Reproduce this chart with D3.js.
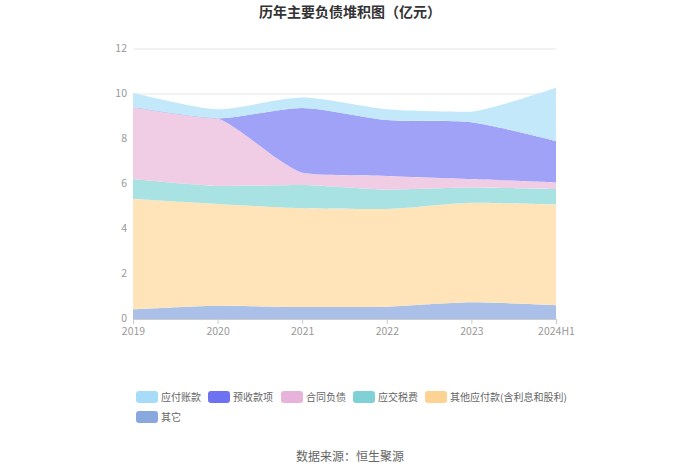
<!DOCTYPE html>
<html><head><meta charset="utf-8">
<script src="https://cdn.jsdelivr.net/npm/d3@7"></script>
<style>body{margin:0;background:#fff;font-family:"Noto Sans CJK SC","Noto Sans",sans-serif;}</style>
</head><body><svg id="c" width="700" height="474"></svg>
<script>
const categories = ["2019","2020","2021","2022","2023","2024H1"];
const seriesNames = ["应付账款","预收款项","合同负债","应交税费","其他应付款(含利息和股利)","其它"];
const s_yingfu   = [0.65, 0.40, 0.46, 0.48, 0.47, 2.37];
const s_yushou   = [0.00, 0.00, 2.88, 2.48, 2.52, 1.84];
const s_hetong   = [3.19, 3.01, 0.54, 0.60, 0.37, 0.29];
const s_yingjiao = [0.89, 0.80, 1.04, 0.87, 0.68, 0.70];
const s_qitayf   = [4.90, 4.52, 4.39, 4.34, 4.43, 4.47];
const s_qita     = [0.43, 0.59, 0.53, 0.55, 0.74, 0.61];
const yTicks = [0,2,4,6,8,10,12];

const swatch = ["#a6dcf7","#6e72f0","#e8b3da","#7fd1d6","#fdd393","#88a8de"];
const fills  = ["#c2e8fa","#a0a2f8","#f0cde5","#a9e2e3","#fee4b8","#abc0e8"];

// mild ECharts-like smoothing curve (control points clamped to segment box)
function smoothCurve(smooth){
  return function(context){
    return {
      areaStart(){this._line=0;},
      areaEnd(){this._line=NaN;},
      lineStart(){this._pts=[];},
      point(x,y){this._pts.push([+x,+y]);},
      lineEnd(){
        const p=this._pts, n=p.length, c=context;
        const clamp=(v,a,b)=>Math.max(Math.min(a,b),Math.min(Math.max(a,b),v));
        if(n){
          if(this._line) c.lineTo(p[0][0],p[0][1]); else c.moveTo(p[0][0],p[0][1]);
          let cpx=p[0][0], cpy=p[0][1];
          for(let i=1;i<n;i++){
            const [px,py]=p[i-1], [x,y]=p[i];
            let vx=0, vy=0, ratio=0.5, c0x=x, c0y=y;
            if(i<n-1){
              const [nx,ny]=p[i+1];
              vx=nx-px; vy=ny-py;
              const l0=Math.hypot(x-px,y-py), l1=Math.hypot(nx-x,ny-y);
              ratio = (l0+l1)>0 ? l1/(l0+l1) : 0.5;
              c0x = x - vx*smooth*(1-ratio);
              c0y = y - vy*smooth*(1-ratio);
            }
            c.bezierCurveTo(clamp(cpx,px,x),clamp(cpy,py,y),clamp(c0x,px,x),clamp(c0y,py,y),x,y);
            cpx = x + vx*smooth*ratio; cpy = y + vy*smooth*ratio;
          }
        }
        if (this._line || (this._line !== 0 && n === 1)) c.closePath();
        this._line = 1 - this._line;
      }
    };
  };
}

const svg = d3.select("#c");
const pLeft=133, pRight=556, pTop=49, pBottom=319;
const x = d3.scalePoint().domain(categories).range([pLeft,pRight]);
const y = d3.scaleLinear().domain([0,12]).range([pBottom,pTop]);

// title
svg.append("text").attr("x",350).attr("y",17).attr("text-anchor","middle")
  .attr("font-size",14).attr("font-weight","bold").attr("fill","#333").text("历年主要负债堆积图（亿元）");

// grid
svg.append("g").selectAll("line").data(yTicks).join("line")
  .attr("x1",pLeft).attr("x2",pRight).attr("y1",d=>y(d)).attr("y2",d=>y(d))
  .attr("stroke","#e6e6e6").attr("stroke-width",1);

// stack (bottom to top)
const order = [s_qita, s_qitayf, s_yingjiao, s_hetong, s_yushou, s_yingfu];
const orderIdx = [5,4,3,2,1,0];
const rows = categories.map((c,i)=>{const r={cat:c}; order.forEach((s,k)=>r["k"+k]=s[i]); return r;});
const stack = d3.stack().keys(order.map((_,k)=>"k"+k))(rows);
const area = d3.area().x(d=>x(d.data.cat)).y0(d=>y(d[0])).y1(d=>y(d[1])).curve(smoothCurve(0.25));
svg.append("g").selectAll("path").data(stack).join("path")
  .attr("d",area).attr("fill",(d,k)=>fills[orderIdx[k]]).attr("stroke","none");

// y axis labels
svg.append("g").selectAll("text").data(yTicks).join("text")
  .attr("x",pLeft-6).attr("y",d=>y(d)+3).attr("text-anchor","end")
  .attr("font-size",10.5).attr("fill","#999").text(d=>d);

// x axis
const xa = svg.append("g").attr("transform",`translate(0,${pBottom})`)
  .call(d3.axisBottom(x).tickSize(5).tickPadding(4).tickSizeOuter(0));
xa.select(".domain").attr("stroke","#ccc");
xa.selectAll(".tick line").attr("stroke","#ccc");
xa.selectAll(".tick text").attr("fill","#999").attr("font-size",10.5)
  .attr("font-family","'Noto Sans CJK SC','Noto Sans',sans-serif");

// legend
const leg = [
  {i:0,x:136,y:397},{i:1,x:208,y:397},{i:2,x:281,y:397},{i:3,x:353,y:397},{i:4,x:425,y:397},{i:5,x:136,y:417}
];
const lg = svg.append("g").selectAll("g").data(leg).join("g").attr("transform",d=>`translate(${d.x},${d.y})`);
lg.append("rect").attr("x",0).attr("y",-6).attr("width",22).attr("height",12).attr("rx",3).attr("fill",d=>swatch[d.i]);
lg.append("text").attr("x",25).attr("y",3.5).attr("font-size",10).attr("fill","#666").text(d=>seriesNames[d.i]);

// source
svg.append("text").attr("x",350).attr("y",461).attr("text-anchor","middle")
  .attr("font-size",12).attr("fill","#666").text("数据来源：恒生聚源");
</script></body></html>
